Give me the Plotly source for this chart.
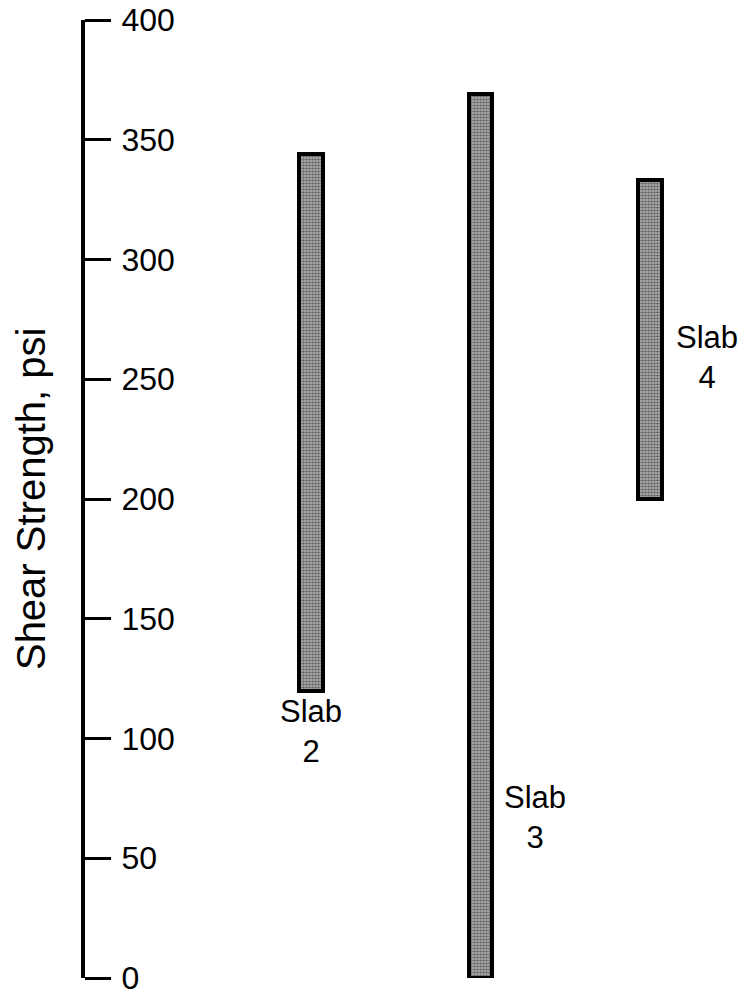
import plotly.graph_objects as go

# Data
slabs = ["Slab 2", "Slab 3", "Slab 4"]
low_psi = [120, 0, 200]
high_psi = [344, 369, 333]
label_texts = ["Slab<br>2", "Slab<br>3", "Slab<br>4"]
label_x = [0.0, 1.32, 2.336]
label_y = [103, 67, 259]
y_ticks = [0, 50, 100, 150, 200, 250, 300, 350, 400]

FONT = "Liberation Sans, Arial, Helvetica, sans-serif"

fig = go.Figure()
fig.add_trace(go.Bar(
    x=slabs,
    y=[h - l for h, l in zip(high_psi, low_psi)],
    base=low_psi,
    width=0.14,
    marker=dict(
        color="#808080",
        line=dict(color="black", width=4),
        pattern=dict(shape=".", fgcolor="#111111", bgcolor="#bdbdbd", size=3, solidity=0.6),
    ),
    cliponaxis=False,
    showlegend=False,
    hoverinfo="skip",
))

for t, xx, yy in zip(label_texts, label_x, label_y):
    fig.add_annotation(x=xx, y=yy, xref="x", yref="y", text=t, showarrow=False,
                       font=dict(family=FONT, size=31, color="black"),
                       xanchor="center", yanchor="middle", align="center")

fig.add_annotation(x=-0.078, y=0.5, xref="paper", yref="paper",
                   text="Shear Strength, psi", textangle=-90, showarrow=False,
                   font=dict(family=FONT, size=40, color="black"),
                   xanchor="center", yanchor="middle")

fig.update_layout(
    width=749, height=997,
    margin=dict(l=83, r=0, t=20, b=19, autoexpand=False),
    paper_bgcolor="white", plot_bgcolor="white",
    font=dict(family=FONT, color="black"),
    bargap=0,
    xaxis=dict(type="category", range=[-1.345, 2.584], visible=False, fixedrange=True),
    yaxis=dict(range=[0, 400], tickvals=y_ticks, side="right", anchor="free", position=0,
               showline=True, linewidth=4, linecolor="black", automargin=False,
               ticks="outside", ticklen=26, tickwidth=3, tickcolor="black",
               ticklabelstandoff=4, ticklabeloverflow="allow",
               tickfont=dict(family=FONT, size=32, color="black"),
               showgrid=False, zeroline=False, fixedrange=True),
)

fig.write_html("out.html", config={"displayModeBar": False},
               post_script="document.body.style.margin='0';document.body.style.overflow='hidden';")
